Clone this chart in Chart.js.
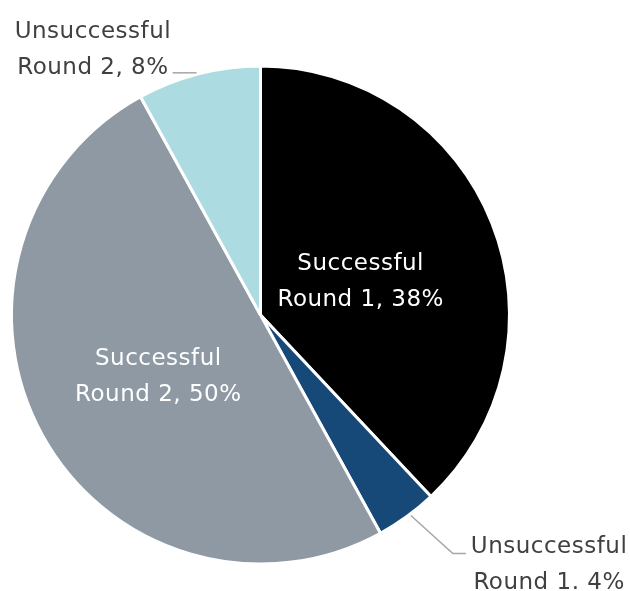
<!DOCTYPE html>
<html>
<head>
<meta charset="utf-8">
<script src="https://cdn.jsdelivr.net/npm/chart.js@4/dist/chart.umd.min.js"></script>
<style>
  html, body { margin: 0; padding: 0; background: #ffffff; }
  #wrap { width: 630px; height: 591px; position: relative; }
</style>
</head>
<body>
<div id="wrap"><canvas id="roundsChart"></canvas></div>
<script>
// Outcome split by round
const categories = ['Successful Round 1', 'Unsuccessful Round 1', 'Successful Round 2', 'Unsuccessful Round 2'];
const shares = [38, 4, 50, 8];
const labelLines = [
    ['Successful', 'Round 1, 38%'],
    ['Unsuccessful', 'Round 1. 4%'],
    ['Successful', 'Round 2, 50%'],
    ['Unsuccessful', 'Round 2, 8%']
];
const sliceColors = ['#000000', '#164878', '#8e99a3', '#acdce2'];

const labelFont = "23px 'DejaVu Sans', 'Open Sans', sans-serif";

// Draws inside labels for big slices, leader-lined labels for small ones
const sliceLabels = {
    id: 'sliceLabels',
    afterDatasetsDraw(chart) {
        const ctx = chart.ctx;
        const meta = chart.getDatasetMeta(0);
        ctx.save();
        ctx.font = labelFont;
        ctx.letterSpacing = '0.5px';
        ctx.textBaseline = 'alphabetic';
        meta.data.forEach((arc, i) => {
            const lines = labelLines[i];
            const { x, y, startAngle, endAngle, outerRadius } = arc.getProps(['x', 'y', 'startAngle', 'endAngle', 'outerRadius'], true);
            const mid = (startAngle + endAngle) / 2;
            const cos = Math.cos(mid), sin = Math.sin(mid);
            const ox = x + cos * outerRadius, oy = y + sin * outerRadius;
            if (shares[i] >= 20) {
                const r = outerRadius * 0.45;
                const cx = x + cos * r - 4, cy = y + sin * r + 6;
                ctx.fillStyle = '#ffffff';
                ctx.textAlign = 'center';
                ctx.fillText(lines[0], cx, cy - 10);
                ctx.fillText(lines[1], cx, cy + 26);
                return;
            }
            ctx.strokeStyle = '#a6a6a6';
            ctx.lineWidth = 1.5;
            ctx.fillStyle = '#404040';
            ctx.beginPath();
            if (cos > 0) {
                // lower right: diagonal then short horizontal
                const sx = ox + 4, sy = oy - 1;
                const ex = sx + 42, ey = sy + 38;
                ctx.moveTo(sx, sy);
                ctx.lineTo(ex, ey);
                ctx.lineTo(ex + 13, ey);
                ctx.stroke();
                const w0 = ctx.measureText(lines[0]).width;
                ctx.textAlign = 'left';
                ctx.fillText(lines[0], ex + 18, ey);
                ctx.textAlign = 'center';
                ctx.fillText(lines[1], ex + 18 + w0 / 2, ey + 36);
            } else {
                // upper left: short horizontal tick
                const ex = ox - 2, ey = oy - 1;
                ctx.moveTo(ex, ey);
                ctx.lineTo(ex - 24, ey);
                ctx.stroke();
                const w1 = ctx.measureText(lines[1]).width;
                ctx.textAlign = 'right';
                ctx.fillText(lines[1], ex - 28, ey + 1);
                ctx.textAlign = 'center';
                ctx.fillText(lines[0], ex - 28 - w1 / 2, ey - 35);
            }
        });
        ctx.restore();
    }
};

new Chart(document.getElementById('roundsChart'), {
    type: 'pie',
    data: {
        labels: categories,
        datasets: [{
            data: shares,
            backgroundColor: sliceColors,
            borderColor: '#ffffff',
            borderWidth: 3
        }]
    },
    options: {
        responsive: true,
        maintainAspectRatio: false,
        animation: false,
        layout: { padding: { left: 10, right: 119, top: 64, bottom: 25 } },
        plugins: {
            legend: { display: false },
            tooltip: { enabled: false }
        }
    },
    plugins: [sliceLabels]
});
</script>
</body>
</html>
